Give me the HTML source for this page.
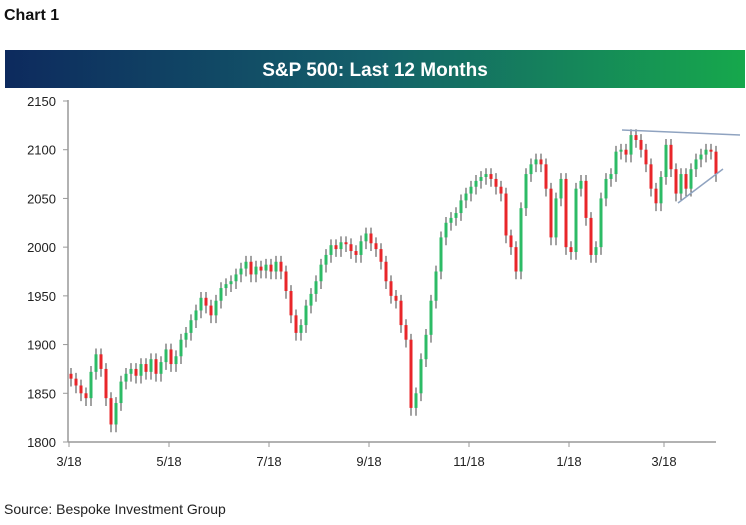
<!DOCTYPE html>
<html><head><meta charset="utf-8"><style>
body{margin:0;background:#fff;width:746px;height:520px;overflow:hidden;font-family:"Liberation Sans",sans-serif}
</style></head><body>
<svg width="746" height="520" xmlns="http://www.w3.org/2000/svg">
<defs><linearGradient id="bg" x1="0" x2="1"><stop offset="0" stop-color="#0d2a5e"/><stop offset="0.5" stop-color="#14606a"/><stop offset="1" stop-color="#16a84c"/></linearGradient></defs>
<text x="4" y="20" font-size="16" font-weight="bold" fill="#111">Chart 1</text>
<rect x="5" y="50" width="740" height="38" fill="url(#bg)"/>
<text x="375" y="76" font-size="19" font-weight="bold" fill="#fff" text-anchor="middle">S&amp;P 500: Last 12 Months</text>
<g id="axes"></g><g id="marks"></g>
<line x1="622" y1="130" x2="740" y2="135" stroke="#8fa3c0" stroke-width="1.5"/>
<line x1="678" y1="203" x2="723" y2="169" stroke="#8fa3c0" stroke-width="1.5"/>
<text x="4" y="514" font-size="14" fill="#222">Source: Bespoke Investment Group</text>
</svg>
<script>
const closes=[1865,1858,1850,1845,1872,1890,1875,1845,1818,1840,1862,1870,1875,1868,1880,1872,1885,1870,1882,1895,1880,1888,1905,1912,1925,1935,1948,1940,1930,1945,1958,1962,1965,1972,1978,1985,1972,1980,1976,1982,1975,1985,1975,1955,1930,1912,1920,1940,1952,1965,1982,1992,2002,1998,2005,2003,1996,1992,2006,2014,2004,1998,1985,1965,1950,1945,1920,1905,1835,1850,1885,1910,1945,1975,2010,2025,2030,2035,2048,2055,2062,2068,2072,2075,2070,2062,2055,2012,2000,1975,2040,2075,2085,2090,2085,2060,2010,2050,2070,2000,1995,2060,2068,2030,1992,2000,2050,2070,2075,2098,2100,2095,2115,2110,2100,2085,2060,2045,2072,2105,2080,2055,2075,2060,2080,2090,2095,2100,2098,2075];
const yTicks=[1800,1850,1900,1950,2000,2050,2100,2150];
const xTickLabels=["3/18","5/18","7/18","9/18","11/18","1/18","3/18"];
const xTickIdx=[0,20,40,60,80,100,119];
const NS="http://www.w3.org/2000/svg";
function y(v){return 442-(v-1800)*341/350;}
function x(i){return 71+i*5;}
function mk(t,a,p){const e=document.createElementNS(NS,t);for(const k in a)e.setAttribute(k,a[k]);p.appendChild(e);return e;}
const ax=document.getElementById('axes'),mg=document.getElementById('marks');
const yl=mk('line',{x1:68,y1:100,x2:68,y2:442,stroke:'#999','stroke-width':1.5},ax);


const xl=mk('line',{x1:68,y1:442,x2:716,y2:442,stroke:'#999','stroke-width':1.5},ax);


yTicks.forEach(v=>{mk('line',{x1:63,x2:68,y1:y(v),y2:y(v),stroke:'#999'},ax);
const t=mk('text',{x:56,y:y(v)+5,'font-size':13,'text-anchor':'end',fill:'#222'},ax);t.textContent=v;

});
xTickIdx.forEach((ix,k)=>{const xx=x(ix)-2;mk('line',{x1:xx,x2:xx,y1:442,y2:447,stroke:'#999'},ax);
const t=mk('text',{x:xx,y:466,'font-size':13,'text-anchor':'middle',fill:'#222'},ax);t.textContent=xTickLabels[k];

});
closes.forEach((c,i)=>{const o=i?closes[i-1]:c+5;const hi=Math.max(o,c)+6,lo=Math.min(o,c)-8;const up=c>=o;
const w=mk('line',{x1:x(i),x2:x(i),y1:y(hi),y2:y(lo),stroke:'#444','stroke-width':1},mg);


const r=mk('rect',{x:x(i)-1.5,y:y(Math.max(o,c)),width:3,height:Math.max(1,Math.abs(y(o)-y(c))),fill:up?'#2dbb66':'#e8262a'},mg);

});
</script>
</body></html>
